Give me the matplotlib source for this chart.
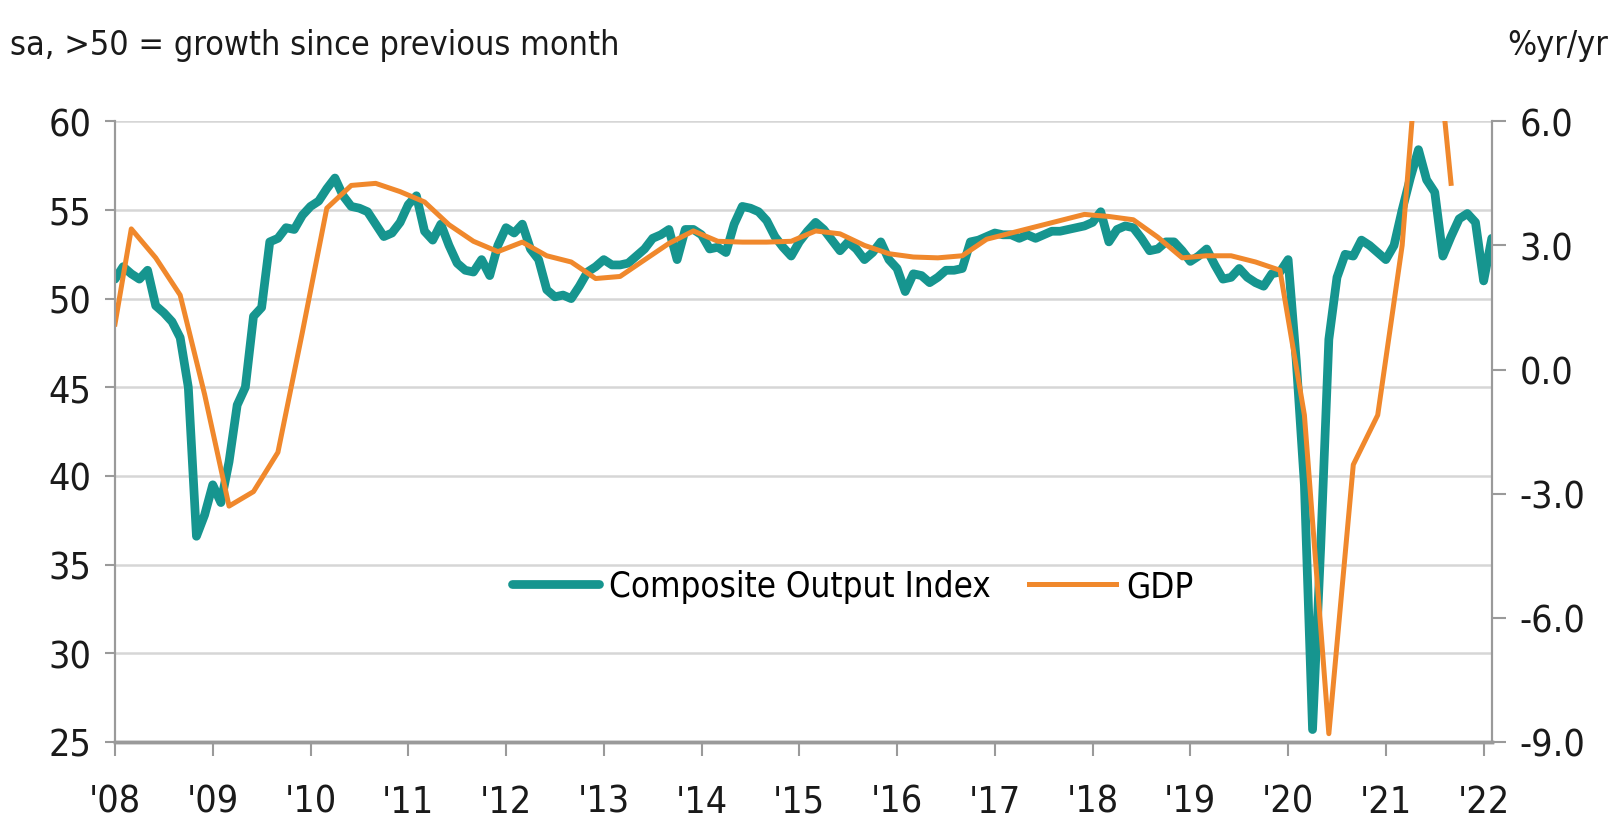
import matplotlib
matplotlib.use('Agg')
import matplotlib.pyplot as plt

plt.rcParams['font.family'] = ['DejaVu Sans']
plt.rcParams['font.stretch'] = 'condensed'

# Composite Output Index, monthly, Jan 2008 - Feb 2022
pmi = [
    51.1, 51.8, 51.4, 51.1, 51.6, 49.6, 49.2, 48.7, 47.8, 45.0, 36.6, 37.8,   # 2008
    39.5, 38.5, 40.8, 44.0, 45.0, 49.0, 49.5, 53.2, 53.4, 54.0, 53.9, 54.7,   # 2009
    55.2, 55.5, 56.2, 56.8, 55.8, 55.2, 55.1, 54.9, 54.2, 53.5, 53.7, 54.3,   # 2010
    55.3, 55.8, 53.8, 53.3, 54.2, 53.0, 52.0, 51.6, 51.5, 52.2, 51.3, 53.0,   # 2011
    54.0, 53.7, 54.2, 52.8, 52.2, 50.5, 50.1, 50.2, 50.0, 50.7, 51.5, 51.8,   # 2012
    52.2, 51.9, 51.9, 52.0, 52.4, 52.8, 53.4, 53.6, 53.9, 52.2, 53.9, 53.9,   # 2013
    53.6, 52.8, 52.9, 52.6, 54.2, 55.2, 55.1, 54.9, 54.4, 53.5, 52.9, 52.4,   # 2014
    53.2, 53.8, 54.3, 53.9, 53.3, 52.7, 53.2, 52.8, 52.2, 52.6, 53.2, 52.2,   # 2015
    51.7, 50.4, 51.4, 51.3, 50.9, 51.2, 51.6, 51.6, 51.7, 53.2, 53.3, 53.5,   # 2016
    53.7, 53.6, 53.6, 53.4, 53.6, 53.4, 53.6, 53.8, 53.8, 53.9, 54.0, 54.1,   # 2017
    54.3, 54.9, 53.2, 53.9, 54.1, 54.0, 53.4, 52.7, 52.8, 53.2, 53.2, 52.7,   # 2018
    52.1, 52.4, 52.8, 51.9, 51.1, 51.2, 51.7, 51.2, 50.9, 50.7, 51.4, 51.5,   # 2019
    52.2, 46.5, 39.5, 25.7, 36.0, 47.7, 51.2, 52.5, 52.4, 53.3, 53.0, 52.6,   # 2020
    52.2, 53.0, 55.0, 56.8, 58.4, 56.7, 56.0, 52.4, 53.5, 54.5, 54.8, 54.3,   # 2021
    51.0, 53.4,                                                               # 2022
]
pmi_x = list(range(len(pmi)))

# GDP %yr/yr, quarterly (plotted at the last month of each quarter)
gdp_x = [0] + list(range(2, 165, 3))
gdp = [
    1.1,
    3.4, 2.7, 1.8, -0.6,      # 2008
    -3.3, -2.95, -2.0, 0.9,   # 2009
    3.9, 4.45, 4.5, 4.3,      # 2010
    4.05, 3.5, 3.1, 2.85,     # 2011
    3.08, 2.75, 2.6, 2.2,     # 2012
    2.25, 2.65, 3.05, 3.35,   # 2013
    3.1, 3.08, 3.08, 3.1,     # 2014
    3.35, 3.28, 3.0, 2.8,     # 2015
    2.72, 2.7, 2.75, 3.15,    # 2016
    3.3, 3.45, 3.6, 3.75,     # 2017
    3.7, 3.62, 3.2, 2.7,      # 2018
    2.75, 2.75, 2.6, 2.4,     # 2019
    -1.1, -8.8, -2.3, -1.1,   # 2020
    3.0, 10.5, 4.5,           # 2021
]

year_ticks = list(range(0, 169, 12))
year_labels = ["'%02d" % y for y in range(8, 23)]
left_ticks = [25, 30, 35, 40, 45, 50, 55, 60]
right_ticks = [-9.0, -6.0, -3.0, 0.0, 3.0, 6.0]

teal = '#16958f'
orange = '#f0882c'
axis_grey = '#9a9a9a'
fs = 27

fig = plt.figure(figsize=(16.15, 8.28), dpi=100)
ax = fig.add_axes([0.0712, 0.1027, 0.8525, 0.7496])
ax2 = ax.twinx()

l1, = ax.plot(pmi_x, pmi, color=teal, lw=6.3, solid_joinstyle='round',
              solid_capstyle='round', label='Composite Output Index')
l2, = ax2.plot(gdp_x, gdp, color=orange, lw=3.6, solid_joinstyle='round', label='GDP')

ax.set_xlim(0, 169)
ax.set_ylim(25, 60)
ax2.set_ylim(-9, 6)

ax.set_yticks(left_ticks)
ax.set_yticklabels([str(t) for t in left_ticks])
ax2.set_yticks(right_ticks)
ax2.set_yticklabels(['%.1f' % t for t in right_ticks])
ax.set_xticks(year_ticks)
ax.set_xticklabels(year_labels)

ax.grid(axis='y', color='#d6d6d6', lw=1.8)
ax.set_axisbelow(True)

for a in (ax, ax2):
    a.spines['top'].set_visible(False)
    a.spines['left'].set_color(axis_grey)
    a.spines['right'].set_color(axis_grey)
    a.spines['bottom'].set_color(axis_grey)
    a.spines['left'].set_linewidth(1.5)
    a.spines['right'].set_linewidth(1.5)
    a.spines['bottom'].set_linewidth(2.5)

ax.tick_params(axis='y', length=7, width=1.5, color=axis_grey, labelsize=fs, pad=10, labelcolor='#1a1a1a')
ax.tick_params(axis='x', length=10, width=1.5, color=axis_grey, labelsize=fs, pad=20, labelcolor='#1a1a1a')
ax2.tick_params(axis='y', length=10, width=1.5, color=axis_grey, labelsize=fs, pad=10, labelcolor='#1a1a1a')

fig.text(0.006, 0.945, 'sa, >50 = growth since previous month', fontsize=24.5,
         color='#1a1a1a', ha='left', va='center')
fig.text(0.996, 0.945, '%yr/yr', fontsize=24.5, color='#1a1a1a', ha='right', va='center')

ax2.legend([l1, l2], ['Composite Output Index', 'GDP'], ncol=2, frameon=False,
           loc='center left', bbox_to_anchor=(0.317, 0.291), bbox_transform=fig.transFigure,
           borderpad=0, borderaxespad=0,
           fontsize=25, handlelength=2.5, handletextpad=0.3, columnspacing=1.1)

fig.savefig('out.png', dpi=100)
